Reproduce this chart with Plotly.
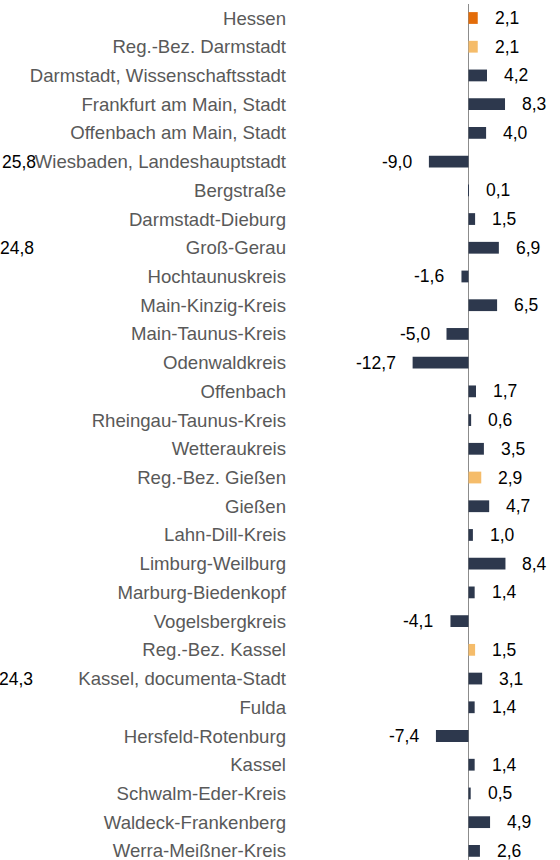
import plotly.graph_objects as go

# Kreise und Regierungsbezirke in Hessen, Veränderung in %
regions = [
    "Hessen",
    "Reg.-Bez. Darmstadt",
    "Darmstadt, Wissenschaftsstadt",
    "Frankfurt am Main, Stadt",
    "Offenbach am Main, Stadt",
    "Wiesbaden, Landeshauptstadt",
    "Bergstraße",
    "Darmstadt-Dieburg",
    "Groß-Gerau",
    "Hochtaunuskreis",
    "Main-Kinzig-Kreis",
    "Main-Taunus-Kreis",
    "Odenwaldkreis",
    "Offenbach",
    "Rheingau-Taunus-Kreis",
    "Wetteraukreis",
    "Reg.-Bez. Gießen",
    "Gießen",
    "Lahn-Dill-Kreis",
    "Limburg-Weilburg",
    "Marburg-Biedenkopf",
    "Vogelsbergkreis",
    "Reg.-Bez. Kassel",
    "Kassel, documenta-Stadt",
    "Fulda",
    "Hersfeld-Rotenburg",
    "Kassel",
    "Schwalm-Eder-Kreis",
    "Waldeck-Frankenberg",
    "Werra-Meißner-Kreis",
]
change = [
    2.1, 2.1, 4.2, 8.3, 4.0, -9.0, 0.1, 1.5, 6.9, -1.6,
    6.5, -5.0, -12.7, 1.7, 0.6, 3.5, 2.9, 4.7, 1.0, 8.4,
    1.4, -4.1, 1.5, 3.1, 1.4, -7.4, 1.4, 0.5, 4.9, 2.6,
]

# Werte der links angrenzenden Grafik (nur teilweise sichtbar)
side_rows = ["Wiesbaden, Landeshauptstadt", "Groß-Gerau", "Kassel, documenta-Stadt"]
side_values = [25.8, 24.8, 24.3]
side_right_px = [38, 36, 35]

C_LAND = "#E36C09"
C_RB = "#F5BC6A"
C_KREIS = "#2D384D"

FONT = "'Liberation Sans', Arial, sans-serif"


def bar_color(name):
    if name == "Hessen":
        return C_LAND
    if name.startswith("Reg.-Bez."):
        return C_RB
    return C_KREIS


def fmt(v):
    return f"{v:.1f}".replace(".", ",")


W, H = 560, 860
M_L, M_R, M_T, M_B = 295, 0, 4, 0
ZERO_PX = 468.5
PX_PER_UNIT = 4.4
x_min = -(ZERO_PX - M_L) / PX_PER_UNIT
x_max = (W - M_R - ZERO_PX) / PX_PER_UNIT

fig = go.Figure(
    go.Bar(
        x=change,
        y=regions,
        orientation="h",
        marker=dict(color=[bar_color(r) for r in regions], line=dict(width=0)),
        hoverinfo="skip",
    )
)

annotations = []
for r, v in zip(regions, change):
    pos = v >= 0
    annotations.append(
        dict(
            x=v, y=r, xref="x", yref="y",
            text=fmt(v), showarrow=False,
            xanchor="left" if pos else "right",
            xshift=15 if pos else -15,
            font=dict(family=FONT, size=17.5, color="#000000"),
        )
    )

plot_w = W - M_L - M_R
for r, v, px in zip(side_rows, side_values, side_right_px):
    annotations.append(
        dict(
            x=(px - M_L) / plot_w, y=r, xref="paper", yref="y",
            text=fmt(v), showarrow=False, xanchor="right",
            font=dict(family=FONT, size=17.5, color="#000000"),
        )
    )

row_px = 28.72
plot_h = H - M_T - M_B
y_top = -(18 - M_T) / row_px
y_bottom = y_top + plot_h / row_px

fig.update_layout(
    width=W, height=H,
    margin=dict(l=M_L, r=M_R, t=M_T, b=M_B, pad=0),
    paper_bgcolor="#FFFFFF",
    plot_bgcolor="#FFFFFF",
    showlegend=False,
    bargap=0.59,
    annotations=annotations,
    xaxis=dict(
        range=[x_min, x_max],
        showgrid=False, showticklabels=False, ticks="",
        zeroline=True, zerolinecolor="#8C8C8C", zerolinewidth=1,
        showline=False, fixedrange=True,
    ),
    yaxis=dict(
        type="category",
        categoryorder="array", categoryarray=regions,
        range=[y_bottom, y_top],
        showgrid=False, zeroline=False, showline=False, ticks="",
        ticklabelstandoff=8,
        tickfont=dict(family=FONT, size=18.6, color="#595959"),
        fixedrange=True,
    ),
)

fig.write_html("out.html")
